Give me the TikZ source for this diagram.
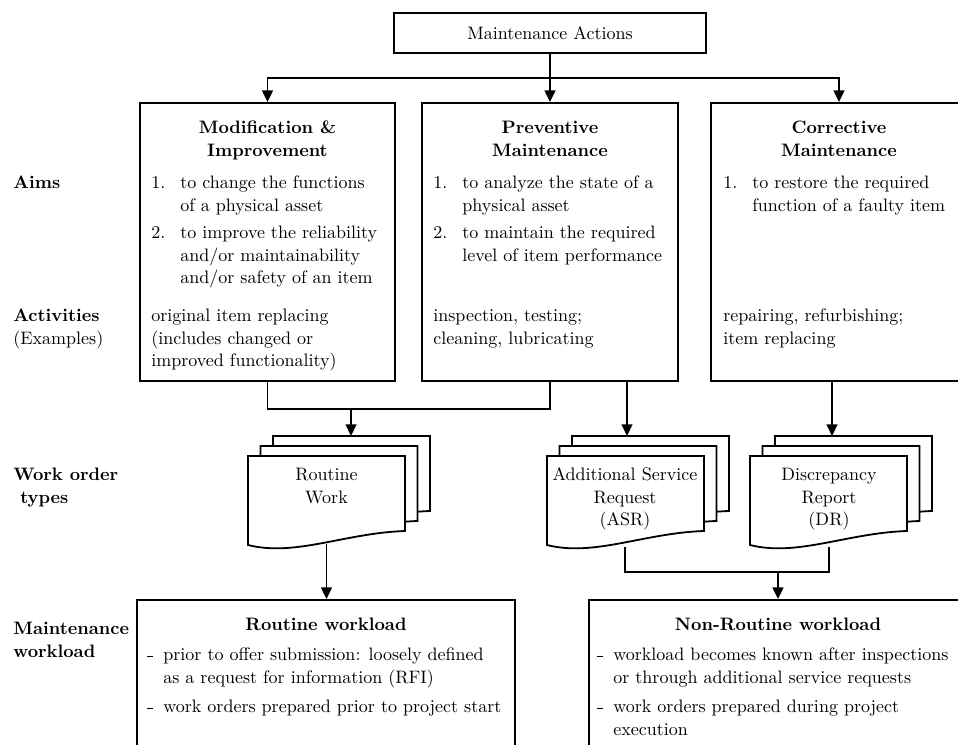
\documentclass[tikz,border=0pt]{standalone}
\usetikzlibrary{fit,arrows.meta}
\newcommand\docshape[2]{%
  \draw[docline] (#1,#2) -- ({#1+157},#2) -- ({#1+157},{#2+75})
    .. controls ({#1+97},{#2+77}) and ({#1+47},{#2+101}) .. (#1,{#2+89}) -- cycle;}
\newcommand\docstack[2]{%
  \docshape{#1+25}{#2-20}\docshape{#1+12.5}{#2-10}\docshape{#1}{#2}}
\newcommand\dsh{\rule[2.5pt]{3.4pt}{0.45pt}}
\begin{document}
\begin{tikzpicture}[x=0.555pt,y=-0.555pt,
  box/.style={draw,line width=1pt,inner sep=0pt,fill=white},
  docline/.style={draw,line width=1pt,fill=white},
  tx/.style={inner sep=0pt,anchor=north west,align=left,font=\fontsize{10}{12.3}\selectfont},
  tc/.style={inner sep=0pt,anchor=north,align=center,font=\fontsize{10}{12.3}\selectfont},
  tb/.style={inner sep=0pt,anchor=north,align=center,font=\fontsize{10}{12.3}\selectfont\bfseries},
  lb/.style={inner sep=0pt,anchor=north west,align=left,font=\fontsize{10}{12.3}\selectfont\bfseries},
  con/.style={line width=1pt},
  arr/.style={con,-{Triangle[length=6.5pt,width=6pt]}}]
\useasboundingbox (0,0) rectangle (958,745);
\clip (0,0) rectangle (958,745);

% top
\node[box,minimum width=173.2pt,minimum height=22.2pt,font=\fontsize{10}{12.3}\selectfont] (top) at (550,33) {Maintenance Actions};

% main boxes
\node[box,fit={(140,103)(395,381)}] (mod) {};
\node[box,fit={(422,103)(678,381)}] (prev) {};
\node[box,fit={(711,103)(967,381)}] (corr) {};

% left labels
\node[lb] (laims) at (13,173) {\strut Aims};
\node[lb] (lact) at (13,306) {\strut Activities\\{\mdseries(Examples)}};
\node[lb] (lwo) at (13,465) {\strut Work order\\~types};
\node[lb] (lmw) at (13,619) {\strut Maintenance\\workload};

% modification
\node[tb] (mt) at (267.5,118) {\strut Modification \&\\Improvement};
\node[tx] (mn1) at (151,173) {\strut 1.};
\node[tx] (mi1) at (180,173) {\strut to change the functions\\of a physical asset};
\node[tx] (mn2) at (151,223) {\strut 2.};
\node[tx] (mi2) at (180,223) {\strut to improve the reliability\\and/or maintainability\\and/or safety of an item};
\node[tx] (ma) at (151,306) {\strut original item replacing\\(includes changed or\\improved functionality)};

% preventive
\node[tb] (pt) at (550,118) {\strut Preventive\\Maintenance};
\node[tx] (pn1) at (433,173) {\strut 1.};
\node[tx] (pi1) at (462,173) {\strut to analyze the state of a\\physical asset};
\node[tx] (pn2) at (433,223) {\strut 2.};
\node[tx] (pi2) at (462,223) {\strut to maintain the required\\level of item performance};
\node[tx] (pa) at (433,306) {\strut inspection, testing;\\cleaning, lubricating};

% corrective
\node[tb] (ct) at (839,118) {\strut Corrective\\Maintenance};
\node[tx] (cn1) at (723,173) {\strut 1.};
\node[tx] (ci1) at (752,173) {\strut to restore the required\\function of a faulty item};
\node[tx] (ca) at (723,306) {\strut repairing, refurbishing;\\item replacing};

% documents
\docstack{248}{456}
\docstack{547}{456}
\docstack{750}{456}
\node[fit={(248,456)(405,544)},inner sep=0pt] (rw) {};
\node[fit={(547,456)(703,547)},inner sep=0pt] (asr) {};
\node[fit={(750,456)(908,547)},inner sep=0pt] (dr) {};
\coordinate (rwt) at (351,436);
\coordinate (asrt) at (627,436);
\coordinate (drt) at (832,436);
\node[tc] (rwx) at (326.5,465) {\strut Routine\\Work};
\node[tc] (asrx) at (625,465) {\strut Additional Service\\Request\\(ASR)};
\node[tc] (drx) at (829,465) {\strut Discrepancy\\Report\\(DR)};

% workload boxes
\node[box,fit={(137,600)(515,770)}] (rwl) {};
\node[box,fit={(589,600)(967,770)}] (nrw) {};
\node[tb] (rwlt) at (326,615) {\strut Routine workload};
\node[tx] (rd1) at (147,645) {\strut\dsh};
\node[tx] (ri1) at (163,645) {\strut prior to offer submission: loosely defined\\as a request for information (RFI)};
\node[tx] (rd2) at (147,697) {\strut\dsh};
\node[tx] (ri2) at (163,697) {\strut work orders prepared prior to project start};
\node[tb] (nrwt) at (778,615) {\strut Non-Routine workload};
\node[tx] (nd1) at (597,645) {\strut\dsh};
\node[tx] (ni1) at (613,645) {\strut workload becomes known after inspections\\or through additional service requests};
\node[tx] (nd2) at (597,697) {\strut\dsh};
\node[tx] (ni2) at (613,697) {\strut work orders prepared during project\\execution};

% connectors
\coordinate (split) at (550,78);
\draw[arr] (top.south) -- (prev.north);
\draw[arr] (split) -| (mod.north);
\draw[arr] (split) -| (corr.north);
\coordinate (j1) at (351,409);
\draw[con] (mod.south) |- (j1) -| (prev.south);
\draw[arr] (j1) -- (rwt);
\draw[arr] (prev.south -| asrt) -- (asrt);
\draw[arr] (corr.south -| drt) -- (drt);
\draw[arr] (rw.south) -- (rwl.north -| rw.south);
\coordinate (j2) at (778,572);
\draw[con] (asr.south) |- (j2) -| (dr.south);
\draw[arr] (j2) -- (nrw.north);
\end{tikzpicture}
\end{document}
